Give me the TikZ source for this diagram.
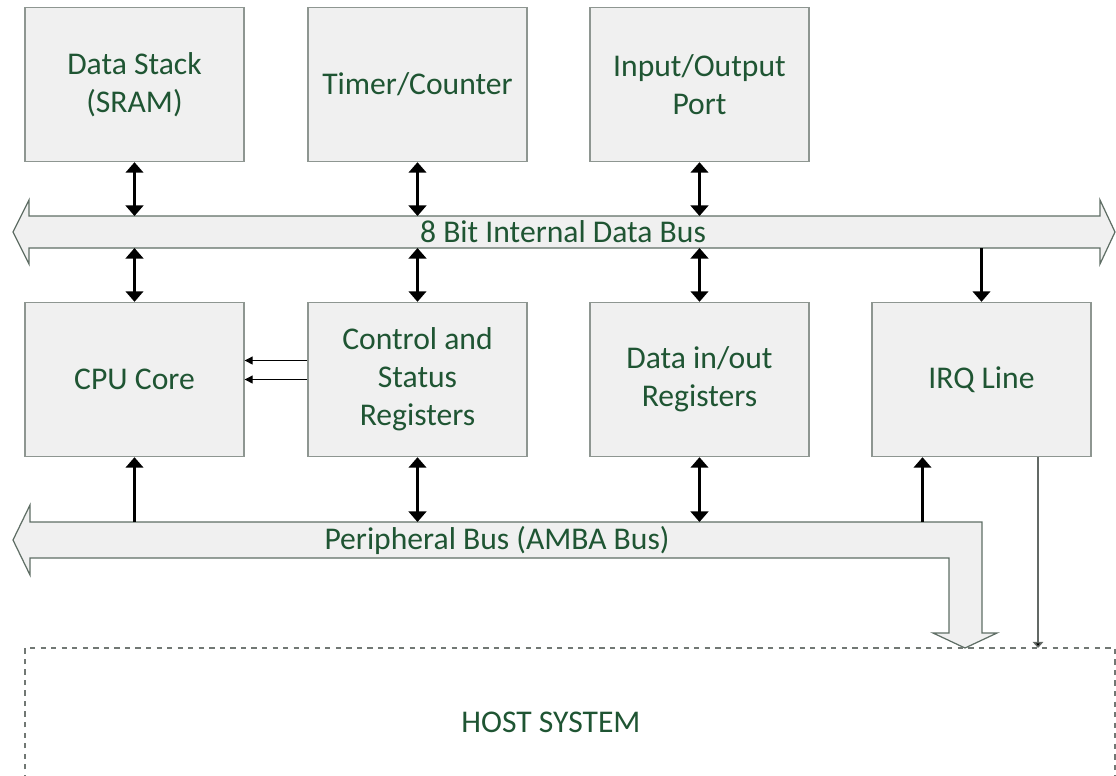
\documentclass[tikz,border=0pt]{standalone}
\usepackage{fontspec}
\setmainfont{Carlito}
\usetikzlibrary{arrows.meta}
\definecolor{boxfill}{HTML}{F0F0F0}
\definecolor{boxline}{HTML}{8E9691}
\definecolor{busline}{HTML}{5F6E65}
\definecolor{txtgreen}{HTML}{1F5533}
\tikzset{
  blk/.style={draw=boxline, fill=boxfill, line width=0.8pt, text=txtgreen,
    minimum width=4.38cm, minimum height=3.08cm, align=center,
    font=\fontsize{18}{21.6}\selectfont},
  lbl/.style={text=txtgreen, font=\fontsize{18}{21.6}\selectfont},
  bus/.style={draw=busline, fill=boxfill, line width=0.7pt, line join=miter},
  dbl/.style={line width=1.7pt, {Triangle[width=10pt,length=6pt]}-{Triangle[width=10pt,length=6pt]}},
  sgl/.style={line width=1.7pt, -{Triangle[width=10pt,length=6pt]}},
  thin/.style={line width=0.6pt, -{Triangle[width=4.5pt,length=4.5pt]}}
}
\begin{document}
\begin{tikzpicture}[x=0.02cm,y=-0.02cm]
\useasboundingbox (0,0) rectangle (1116,775);

% buses
\draw [bus] (13,232) -- (29,200) -- (29,216) -- (1100,216) -- (1100,200) -- (1115,232)
  -- (1100,264) -- (1100,248) -- (29,248) -- (29,264) -- cycle;
\draw [bus] (13,540) -- (30,505) -- (30,522) -- (982,522) -- (982,633) -- (997,633)
  -- (965,648) -- (933,633) -- (949,633) -- (949,558) -- (30,558) -- (30,575) -- cycle;
\node [lbl] (ibus) at (563,232) {8 Bit Internal Data Bus};
\node [lbl] (pbus) at (497,540) {Peripheral Bus (AMBA Bus)};
\coordinate (ibtop) at (0,216);
\coordinate (ibbot) at (0,248);
\coordinate (pbtop) at (0,522);

% top row
\node [blk] (stack) at (134.5,84.5) {Data Stack\\(SRAM)};
\node [blk] (timer) at (417.5,84.5) {Timer/Counter};
\node [blk] (port) at (699.5,84.5) {Input/Output\\Port};

% middle row
\node [blk] (cpu) at (134.5,379.5) {CPU Core};
\node [blk] (csr) at (417.5,379.5) {Control and\\Status\\Registers};
\node [blk] (dio) at (699.5,379.5) {Data in/out\\Registers};
\node [blk] (irq) at (981.5,379.5) {IRQ Line};

% host system
\draw [boxline!80!black, dashed, line width=0.7pt] (25,780) -- (25,648) -- (1115,648) -- (1115,780);
\node [lbl] (host) at (551,722) {HOST SYSTEM};
\coordinate (hosttop) at (0,648);
\coordinate (irqout) at (1038,457);

% connectors
\draw [dbl] (stack.south) -- (stack.south |- ibtop);
\draw [dbl] (timer.south) -- (timer.south |- ibtop);
\draw [dbl] (port.south) -- (port.south |- ibtop);
\draw [dbl] (cpu.north) -- (cpu.north |- ibbot);
\draw [dbl] (csr.north) -- (csr.north |- ibbot);
\draw [dbl] (dio.north) -- (dio.north |- ibbot);
\draw [sgl] (irq.north |- ibbot) -- (irq.north);
\draw [sgl] (cpu.south |- pbtop) -- (cpu.south);
\draw [dbl] (csr.south) -- (csr.south |- pbtop);
\draw [dbl] (dio.south) -- (dio.south |- pbtop);
\draw [sgl] ([xshift=-1.18cm]irq.south |- pbtop) -- ([xshift=-1.18cm]irq.south);
\draw [thin] ([yshift=0.38cm]csr.west) -- ([yshift=0.38cm]cpu.east);
\draw [thin] (csr.west) -- (cpu.east);
\draw [line width=0.8pt, boxline!70!black, -{Triangle[width=6pt,length=3.5pt,fill=black]}] (irqout) -- (irqout |- hosttop);
\end{tikzpicture}
\end{document}
